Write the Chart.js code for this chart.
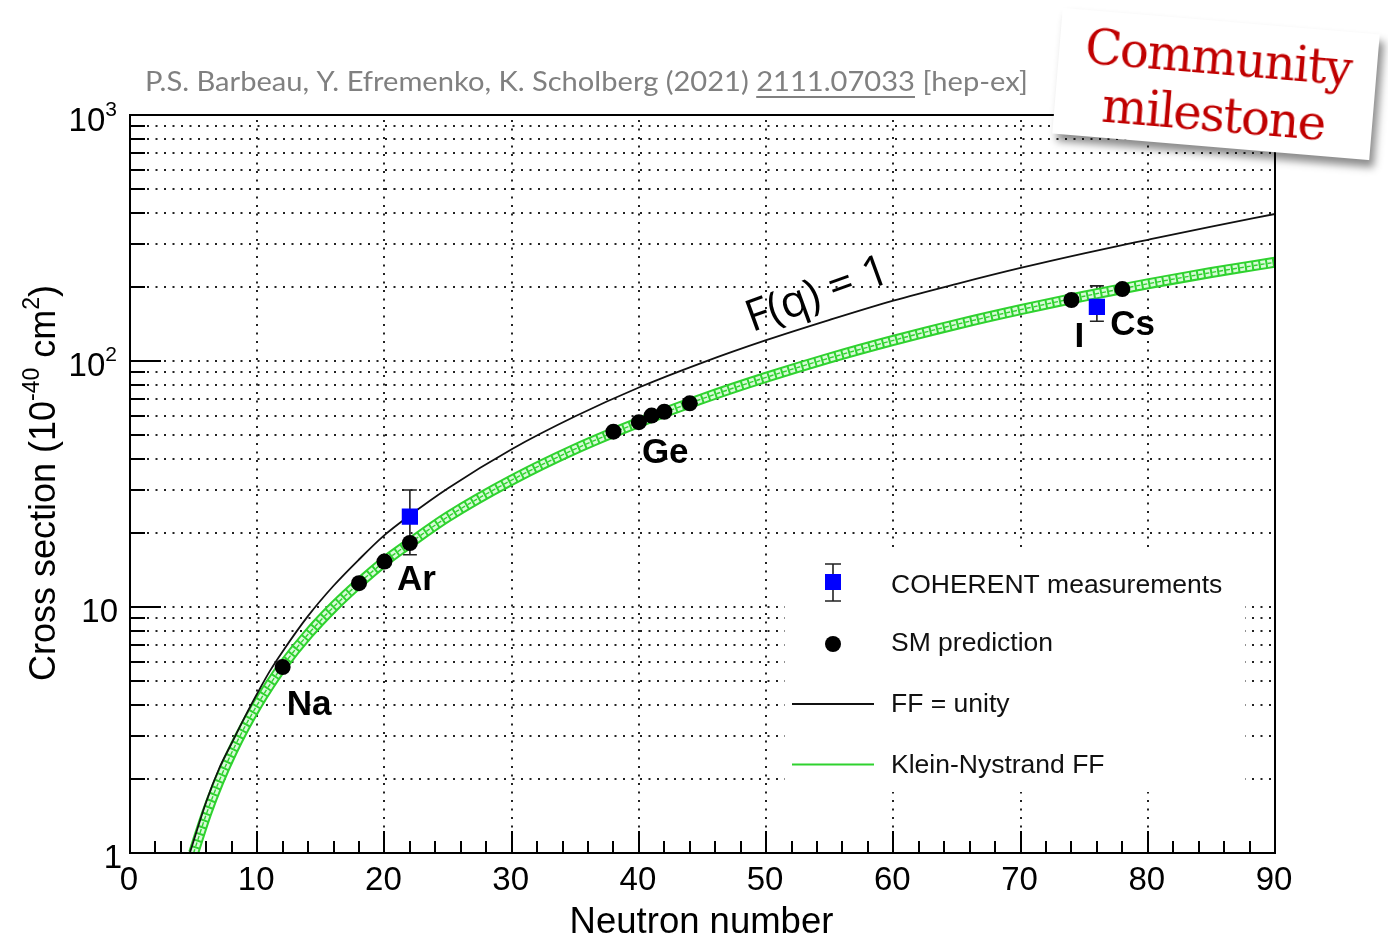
<!DOCTYPE html>
<html>
<head>
<meta charset="utf-8">
<script src="https://cdn.jsdelivr.net/npm/chart.js@4.4.1/dist/chart.umd.min.js"></script>
<style>
  html, body { margin: 0; padding: 0; background: #fff; }
  #wrap { position: relative; width: 1388px; height: 940px; overflow: hidden; }
  #sticker {
    position: absolute; left: 1057px; top: 21px; width: 318px; height: 126px;
    background: #fff; transform: rotate(4.8deg);
    box-shadow: 5px 7px 8px rgba(0, 0, 0, .45);
    font-family: "DejaVu Serif", serif; color: #c00000;
    font-size: 48px; letter-spacing: -1.5px; line-height: 57px;
    text-align: center; box-sizing: border-box; padding-top: 8px;
  }
</style>
</head>
<body>
<div id="wrap">
  <canvas id="chart" width="1388" height="940"></canvas>
  <div id="sticker">Community<br>milestone</div>
</div>
<script>
// CEvNS cross section vs neutron number (units of 1e-40 cm^2)
const unityN     = [4.7, 6, 7, 8, 9, 10, 11, 12, 14, 16, 18, 20, 22, 25, 30, 35, 40, 45, 50, 55, 60, 65, 70, 75, 80, 85, 90];
const unitySigma = [1.0, 1.62, 2.2, 2.8, 3.55, 4.45, 5.5, 6.6, 9.2, 12.2, 15.6, 19.6, 23.6, 30.4, 43.8, 59.6, 78, 98.5, 121.5, 147, 176, 206, 239, 274, 311, 352, 396];

const kleinN     = [5, 6, 7, 8, 9, 10, 11, 12, 14, 16, 18, 20, 22, 25, 30, 35, 40, 45, 50, 55, 60, 65, 70, 75, 80, 85, 90];
const kleinSigma = [1.0, 1.44, 1.96, 2.56, 3.24, 4.0, 4.84, 5.76, 7.75, 10.0, 12.5, 15.3, 18.2, 23.3, 32.8, 43.9, 56.3, 70.3, 85.8, 102.9, 121.3, 141, 161.7, 183.4, 206, 229, 252];

// SM predictions: Na, Ar (3 isotopes), Ge (5 isotopes), I, Cs
const smN     = [12, 18, 20, 22, 38, 40, 41, 42, 44, 74, 78];
const smSigma = [5.7, 12.5, 15.3, 18.2, 51.6, 56.4, 60, 62.2, 67.3, 177, 196];

// COHERENT measurements (Ar, CsI) with error bars
const cohN     = [22, 76];
const cohSigma = [23.3, 166];
const cohLow   = [16.3, 145];
const cohHigh  = [29.9, 202];

const xTicks = [0, 10, 20, 30, 40, 50, 60, 70, 80, 90];
const yDecades = [1, 10, 100, 1000];
const nuclei = ["Na", "Ar", "Ge", "I", "Cs"];
const legendLabels = ["COHERENT measurements", "SM prediction", "FF = unity", "Klein-Nystrand FF"];

const HELV = '"Liberation Sans", Arial, Helvetica, sans-serif';
const GREEN = "#2fd22f";

const pts = (xs, ys) => xs.map((x, i) => ({ x, y: ys[i] }));

// which SM point each nucleus label hangs under, and the offset in px
const labelSpots = [
  { idx: 0, dx: 4, dy: 48 },
  { idx: 3, dx: -13, dy: 47 },
  { idx: 5, dx: 3, dy: 41 },
  { idx: 9, dx: 3, dy: 47 },
  { idx: 10, dx: -12, dy: 46 }
];

function minorValues() {
  const out = [];
  for (const d of yDecades.slice(0, -1)) for (let m = 1; m < 10; m++) out.push(d * m);
  out.push(1000);
  return out;
}

function drawPower(ctx, exp, right, baseline) {
  ctx.font = `33px ${HELV}`;
  const wb = ctx.measureText("10").width;
  ctx.font = `21px ${HELV}`;
  const we = ctx.measureText(exp).width;
  ctx.textAlign = "left";
  ctx.fillText(exp, right - we, baseline - 15);
  ctx.font = `33px ${HELV}`;
  ctx.fillText("10", right - we - wb, baseline);
}

const decor = {
  id: "decor",
  beforeDatasetsDraw(chart) {
    const { ctx, chartArea: a, scales: { x, y } } = chart;
    ctx.save();
    // dotted grid
    ctx.strokeStyle = "#222";
    ctx.lineWidth = 2;
    ctx.setLineDash([2, 6.5]);
    ctx.beginPath();
    for (const n of xTicks) {
      if (n <= 0 || n >= 90) continue;
      const px = Math.round(x.getPixelForValue(n));
      ctx.moveTo(px, a.bottom); ctx.lineTo(px, a.top);
    }
    for (const v of minorValues()) {
      if (v <= 1 || v >= 1000) continue;
      const py = Math.round(y.getPixelForValue(v));
      ctx.moveTo(a.left, py); ctx.lineTo(a.right, py);
    }
    ctx.stroke();
    ctx.setLineDash([]);

    // error bars
    ctx.strokeStyle = "#222";
    ctx.lineWidth = 1.6;
    cohN.forEach((n, i) => {
      const px = x.getPixelForValue(n);
      const lo = y.getPixelForValue(cohLow[i]);
      const hi = y.getPixelForValue(cohHigh[i]);
      ctx.beginPath();
      ctx.moveTo(px, lo); ctx.lineTo(px, hi);
      ctx.moveTo(px - 7, lo); ctx.lineTo(px + 7, lo);
      ctx.moveTo(px - 7, hi); ctx.lineTo(px + 7, hi);
      ctx.stroke();
    });
    ctx.restore();
  },
  afterDatasetsDraw(chart) {
    const { ctx, chartArea: a, scales: { x, y } } = chart;
    ctx.save();

    // frame and ticks
    ctx.strokeStyle = "#000";
    ctx.lineWidth = 2;
    ctx.strokeRect(a.left, a.top, a.right - a.left, a.bottom - a.top);
    ctx.beginPath();
    for (let n = 2; n < 90; n += 2) {
      const px = Math.round(x.getPixelForValue(n));
      const len = n % 10 === 0 ? 22 : 12;
      ctx.moveTo(px, a.bottom); ctx.lineTo(px, a.bottom - len);
    }
    for (const v of minorValues()) {
      if (v <= 1 || v >= 1000) continue;
      const py = Math.round(y.getPixelForValue(v));
      const len = yDecades.includes(v) ? 31 : 15;
      ctx.moveTo(a.left, py); ctx.lineTo(a.left + len, py);
    }
    ctx.stroke();

    // tick labels
    ctx.fillStyle = "#000";
    ctx.font = `33px ${HELV}`;
    ctx.textAlign = "center";
    ctx.textBaseline = "alphabetic";
    for (const n of xTicks) ctx.fillText(String(n), x.getPixelForValue(n) - 1, a.bottom + 37);
    ctx.textAlign = "right";
    ctx.fillText("1", a.left - 8, y.getPixelForValue(1) + 15);
    ctx.fillText("10", a.left - 12, y.getPixelForValue(10) + 15);
    drawPower(ctx, "2", a.left - 13, y.getPixelForValue(100) + 15);
    drawPower(ctx, "3", a.left - 13, y.getPixelForValue(1000) + 16);

    // axis titles
    ctx.font = `36.5px ${HELV}`;
    ctx.textAlign = "center";
    ctx.fillText("Neutron number", (a.left + a.right) / 2 - 1, 933);

    ctx.save();
    ctx.translate(55, (a.top + a.bottom) / 2 - 1);
    ctx.rotate(-Math.PI / 2);
    const parts = [["Cross section (10", 36, 0], ["-40", 23, -16], [" cm", 36, 0], ["2", 23, -16], [")", 36, 0]];
    let total = 0;
    for (const [t, s] of parts) { ctx.font = `${s}px ${HELV}`; total += ctx.measureText(t).width; }
    let cx = -total / 2;
    ctx.textAlign = "left";
    for (const [t, s, dy] of parts) {
      ctx.font = `${s}px ${HELV}`;
      ctx.fillText(t, cx, dy);
      cx += ctx.measureText(t).width;
    }
    ctx.restore();

    // nucleus labels
    ctx.font = `bold 35px ${HELV}`;
    ctx.textAlign = "left";
    labelSpots.forEach((s, i) => {
      const px = x.getPixelForValue(smN[s.idx]);
      const py = y.getPixelForValue(smSigma[s.idx]);
      ctx.fillText(nuclei[i], px + s.dx, py + s.dy);
    });

    // F(q) = 1 along the unity curve
    ctx.save();
    ctx.translate(x.getPixelForValue(50) - 14, y.getPixelForValue(121.5) - 8);
    ctx.rotate(-20 * Math.PI / 180);
    ctx.font = '44px "Open Sans", sans-serif';
    ctx.fillText("F(q) = 1", 0, 0);
    ctx.restore();

    // legend
    ctx.fillStyle = "#fff";
    ctx.fillRect(785, 552, 460, 240);
    const lx = 833;
    ctx.strokeStyle = "#222";
    ctx.lineWidth = 1.6;
    ctx.beginPath();
    ctx.moveTo(lx, 564); ctx.lineTo(lx, 601);
    ctx.moveTo(lx - 8, 564); ctx.lineTo(lx + 8, 564);
    ctx.moveTo(lx - 8, 601); ctx.lineTo(lx + 8, 601);
    ctx.stroke();
    ctx.fillStyle = "#0000ff";
    ctx.fillRect(lx - 8, 574, 16, 16);
    ctx.fillStyle = "#000";
    ctx.beginPath(); ctx.arc(lx, 644, 8, 0, Math.PI * 2); ctx.fill();
    ctx.lineWidth = 1.8;
    ctx.strokeStyle = "#111";
    ctx.beginPath(); ctx.moveTo(792, 704); ctx.lineTo(874, 704); ctx.stroke();
    ctx.strokeStyle = GREEN;
    ctx.beginPath(); ctx.moveTo(792, 764.5); ctx.lineTo(874, 764.5); ctx.stroke();
    ctx.font = `26.5px ${HELV}`;
    ctx.fillStyle = "#111";
    [593, 651, 712, 773].forEach((b, i) => ctx.fillText(legendLabels[i], 891, b));

    // citation line
    ctx.save();
    ctx.fillStyle = "#808080";
    ctx.font = '27px Lato, "Open Sans", sans-serif';
    const pre = "P.S. Barbeau, Y. Efremenko, K. Scholberg (2021) ";
    const ref = "2111.07033";
    const post = " [hep-ex]";
    const w0 = ctx.measureText(pre).width, w1 = ctx.measureText(ref).width, w2 = ctx.measureText(post).width;
    const f = 883 / (w0 + w1 + w2);
    ctx.translate(145, 91);
    ctx.scale(f, 1);
    ctx.fillText(pre + ref + post, 0, 0);
    ctx.fillRect(w0, 5, w1, 2);
    ctx.restore();

    ctx.restore();
  }
};

function build() {
  new Chart(document.getElementById("chart"), {
    type: "line",
    data: {
      datasets: [
        { data: pts(cohN, cohSigma), showLine: false, pointStyle: "rect", pointRadius: 11.5,
          backgroundColor: "#0000ff", borderColor: "#0000ff", borderWidth: 0 },
        { data: pts(smN, smSigma), showLine: false, pointRadius: 8,
          backgroundColor: "#000", borderColor: "#000", borderWidth: 0 },
        { data: pts(unityN, unitySigma), borderColor: "#111", borderWidth: 1.8, pointRadius: 0,
          cubicInterpolationMode: "monotone", clip: 0 },
        { data: pts(kleinN, kleinSigma), borderColor: GREEN, borderWidth: 1.4, borderDash: [4, 3], pointRadius: 0,
          cubicInterpolationMode: "monotone", clip: 0 },
        { data: pts(kleinN, kleinSigma), borderColor: "rgba(235,255,235,0.9)", borderWidth: 7, borderDash: [5, 2], pointRadius: 0,
          cubicInterpolationMode: "monotone", clip: 0 },
        { data: pts(kleinN, kleinSigma), borderColor: GREEN, borderWidth: 11, pointRadius: 0,
          cubicInterpolationMode: "monotone", clip: 0 }
      ]
    },
    options: {
      responsive: false,
      animation: false,
      layout: { padding: { left: 130, top: 115, right: 113, bottom: 87 } },
      plugins: { legend: { display: false }, tooltip: { enabled: false } },
      scales: {
        x: { type: "linear", min: 0, max: 90, display: false },
        y: { type: "logarithmic", min: 1, max: 1000, display: false }
      }
    },
    plugins: [decor]
  });
}

Promise.all([
  document.fonts.load('44px "Open Sans"'),
  document.fonts.load("27px Lato"),
  document.fonts.load(`33px ${HELV}`),
  document.fonts.load(`bold 35px ${HELV}`),
  document.fonts.load('48px "DejaVu Serif"')
]).then(build, build);
</script>
</body>
</html>
